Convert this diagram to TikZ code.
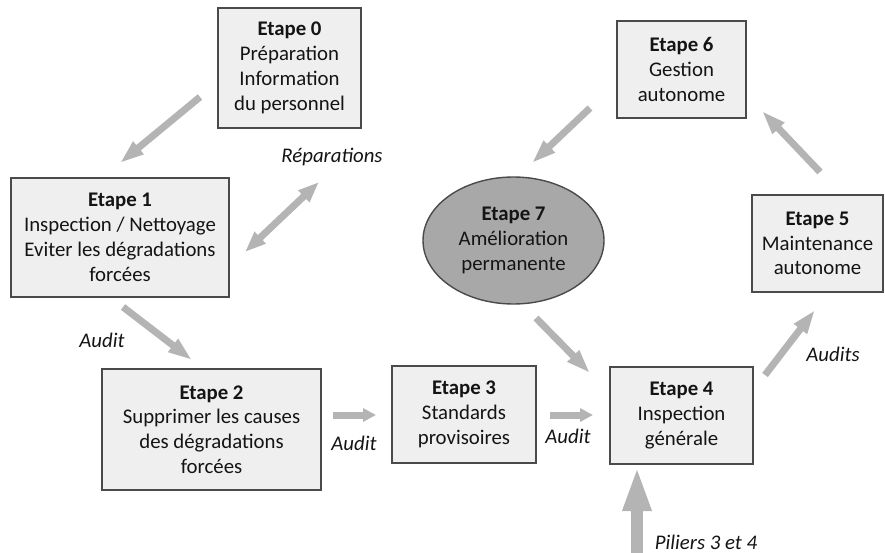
\documentclass[tikz,border=0pt]{standalone}
\usepackage{fontspec}
\setmainfont{Carlito}
\usetikzlibrary{arrows.meta,shapes.geometric}
\definecolor{boxfill}{HTML}{EFEFEF}
\definecolor{boxline}{HTML}{4A4A4A}
\definecolor{ovalfill}{HTML}{A8A8A8}
\definecolor{arrowgray}{HTML}{B4B4B4}
\begin{document}
\begin{tikzpicture}[x=1pt,y=-1pt,
  every node/.style={font=\fontsize{20.8}{24.8}\selectfont, text=black!92},
  stepbox/.style={draw=boxline, fill=boxfill, line width=1.6pt, inner sep=0pt, align=center},
  stepoval/.style={ellipse, draw=boxline, fill=ovalfill, line width=1.4pt, inner sep=0pt, align=center},
  flow/.style={draw=arrowgray, line width=7pt, -{Triangle[length=24pt,width=15pt]}},
  flowshort/.style={draw=arrowgray, line width=7pt, -{Triangle[length=13pt,width=13pt]}},
  flowboth/.style={draw=arrowgray, line width=7pt, {Triangle[length=21pt,width=15pt]}-{Triangle[length=21pt,width=15pt]}},
  flowbig/.style={draw=arrowgray, line width=12pt, -{Triangle[length=45pt,width=26pt]}},
  tag/.style={font=\fontsize{20.8}{24.8}\selectfont\itshape}]
\useasboundingbox (0,0) rectangle (885,553);

% steps
\node[stepbox, minimum width=143pt, minimum height=120pt] (e0) at (289.5,68)
  {\textbf{Etape 0}\\Préparation\\Information\\du personnel};
\node[stepbox, minimum width=218pt, minimum height=119pt] (e1) at (120,237.5)
  {\textbf{Etape 1}\\Inspection / Nettoyage\\Eviter les dégradations\\forcées};
\node[stepbox, minimum width=219pt, minimum height=121pt] (e2) at (211.5,429.5)
  {\textbf{Etape 2}\\Supprimer les causes\\des dégradations\\forcées};
\node[stepbox, minimum width=144pt, minimum height=97pt] (e3) at (464,414.5)
  {\textbf{Etape 3}\\Standards\\provisoires};
\node[stepbox, minimum width=143pt, minimum height=97pt] (e4) at (681.5,415.5)
  {\textbf{Etape 4}\\Inspection\\générale};
\node[stepbox, minimum width=131pt, minimum height=97pt] (e5) at (817.5,243.5)
  {\textbf{Etape 5}\\Maintenance\\autonome};
\node[stepbox, minimum width=129pt, minimum height=97pt] (e6) at (681.5,69.5)
  {\textbf{Etape 6}\\Gestion\\autonome};
\node[stepoval, minimum width=181pt, minimum height=127pt] (e7) at (513.5,240.5)
  {\textbf{Etape 7}\\Amélioration\\permanente};

% arrow end points
\coordinate (a01s) at (200,97);   \coordinate (a01e) at (120,163);
\coordinate (rep1) at (319,182);  \coordinate (rep2) at (245,252);
\coordinate (a12s) at (123,307);  \coordinate (a12e) at (192,360);
\coordinate (a23s) at (333,415);  \coordinate (a23e) at (376,415);
\coordinate (a34s) at (550,415);  \coordinate (a34e) at (593,415);
\coordinate (a74s) at (536,318);  \coordinate (a74e) at (590,373);
\coordinate (a45s) at (765,375);  \coordinate (a45e) at (815,310);
\coordinate (a56s) at (820,172);  \coordinate (a56e) at (762,111);
\coordinate (a67s) at (590,108);  \coordinate (a67e) at (532,163);
\coordinate (ap4s) at (637,553);  \coordinate (ap4e) at (637,466);

% arrows
\draw[flow] (a01s) -- (a01e);
\draw[flowboth] (rep1) -- (rep2);
\draw[flow] (a12s) -- (a12e);
\draw[flowshort] (a23s) -- (a23e);
\draw[flowshort] (a34s) -- (a34e);
\draw[flow] (a74s) -- (a74e);
\draw[flow] (a45s) -- (a45e);
\draw[flow] (a56s) -- (a56e);
\draw[flow] (a67s) -- (a67e);
\draw[flowbig] (ap4s) -- (ap4e);

% labels
\node[tag] (lrep) at (332,157) {Réparations};
\node[tag] (l12) at (102,340) {Audit};
\node[tag] (l23) at (354,443) {Audit};
\node[tag] (l34) at (568,436) {Audit};
\node[tag] (l45) at (833,354) {Audits};
\node[tag] (lpil) at (706,542) {Piliers 3 et 4};
\end{tikzpicture}
\end{document}
